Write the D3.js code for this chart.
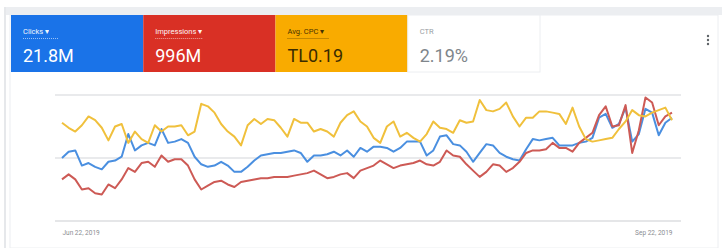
<!DOCTYPE html>
<html>
<head>
<meta charset="utf-8">
<script src="https://cdn.jsdelivr.net/npm/d3@7"></script>
<style>
  body { margin: 0; background: #fff; font-family: Roboto, "Noto Sans", sans-serif; }
  svg { display: block; }
</style>
</head>
<body>
<div id="container"></div>
<script>
let w = 722;
let h = 248;

// summary tiles
let tileNames = ["Clicks", "Impressions", "Avg. CPC", "CTR"];
let tileValues = ["21.8M", "996M", "TL0.19", "2.19%"];
let tileColors = ["#1a73e8", "#d93025", "#f9ab00", "#ffffff"];
let tileText = ["#ffffff", "#ffffff", "#3b2c00", "#80868b"];

// daily dates, Jun 22 2019 .. Sep 22 2019
let startDate = new Date(2019, 5, 22);
let endDate = new Date(2019, 8, 22);
let tickLabels = ["Jun 22, 2019", "Sep 22, 2019"];

// relative index (0-100), one value per day
let clicks = [50,55,56,44,46,43,41,47,48,51,69,56,60,62,60,73,62,63,65,62,
  51,45,43,44,47,44,39,39,43,48,52,53,54,54,55,56,54,47,52,52,
  53,55,52,56,51,58,55,59,59,58,55,58,63,63,63,52,56,67,68,61,
  60,55,47,54,61,60,54,51,49,48,57,65,64,65,66,60,60,60,62,63,
  66,82,85,74,77,90,63,69,89,86,68,78,82];
let impressions = [33,37,33,25,26,22,21,29,26,33,42,39,46,47,43,52,47,49,49,44,
  33,25,28,31,32,29,27,31,32,33,34,34,35,35,35,36,37,38,40,37,
  34,35,37,38,34,40,42,44,48,45,42,44,45,46,48,45,44,47,56,52,
  51,45,40,35,39,45,44,39,42,47,54,56,56,57,62,58,58,55,62,66,
  70,84,91,75,76,92,54,72,98,94,76,83,86];
let avgCpc = [78,74,71,76,83,80,74,64,75,77,62,71,65,62,76,71,75,75,76,68,
  71,93,91,86,77,71,67,60,76,81,77,81,80,74,67,81,78,78,71,73,
  71,67,78,84,87,79,75,66,62,75,79,67,70,66,63,69,79,74,73,70,
  80,78,79,96,88,87,89,94,83,75,82,82,87,87,86,85,77,90,75,65,
  63,64,65,66,73,79,88,84,83,86,88,90,80];

let seriesList = [
  { name: "Clicks", values: clicks, color: "#4a8fe0" },
  { name: "Impressions", values: impressions, color: "#cd5a55" },
  { name: "Avg. CPC", values: avgCpc, color: "#f0c03c" }
];

let viz = d3.select("#container")
  .append("svg")
    .attr("width", w)
    .attr("height", h);

// page frame: grey band at the top and thin left edge
viz.append("rect").attr("x", 4).attr("y", 7).attr("width", w - 4).attr("height", 8).attr("fill", "#eceef1");
viz.append("rect").attr("x", 4).attr("y", 7).attr("width", 2).attr("height", h - 7).attr("fill", "#e6e8eb");
viz.append("rect").attr("x", 10).attr("y", 15).attr("width", 708).attr("height", h - 15)
  .attr("fill", "#fff").attr("stroke", "#eceef1");

// tiles
let tileX = d3.scaleBand().domain(tileNames).range([11, 540]);

let tiles = viz.selectAll(".tile").data(tileNames).enter()
  .append("g")
  .attr("class", "tile")
  .attr("transform", d => "translate(" + tileX(d) + ",15)");

tiles.append("rect")
  .attr("width", tileX.bandwidth())
  .attr("height", 57)
  .attr("fill", (d, i) => tileColors[i])
  .attr("stroke", (d, i) => i == 3 ? "#eceef1" : "none");

tiles.append("text")
  .attr("x", 12)
  .attr("y", 19)
  .attr("font-size", 7.5)
  .attr("fill", (d, i) => tileText[i])
  .attr("opacity", (d, i) => i == 3 ? 0.8 : 0.95)
  .text((d, i) => i < 3 ? d + " \u25BE" : d.toUpperCase());

// dotted underline under the metric names
tiles.filter((d, i) => i < 3).append("line")
  .attr("x1", 12)
  .attr("x2", (d, i) => 12 + [36, 48, 42][i])
  .attr("y1", 23.5).attr("y2", 23.5)
  .attr("stroke", (d, i) => tileText[i])
  .attr("stroke-width", 0.8)
  .attr("stroke-dasharray", "1,1")
  .attr("opacity", 0.7);

tiles.append("text")
  .attr("x", 12)
  .attr("y", 47)
  .attr("font-size", 18)
  .attr("fill", (d, i) => tileText[i])
  .text((d, i) => tileValues[i]);

// kebab menu
viz.selectAll(".dot").data([0, 1, 2]).enter()
  .append("circle")
  .attr("cx", 708)
  .attr("cy", d => 36 + d * 4)
  .attr("r", 1.2)
  .attr("fill", "#5f6368");

// scales
let xScale = d3.scaleTime().domain([startDate, endDate]).range([62, 672]);
let yScale = d3.scaleLinear().domain([0, 100]).range([221, 95]);

let dates = d3.timeDay.range(startDate, d3.timeDay.offset(endDate, 1));

// gridlines
viz.selectAll(".grid").data([50, 100]).enter()
  .append("line")
  .attr("x1", 55).attr("x2", 681)
  .attr("y1", d => yScale(d)).attr("y2", d => yScale(d))
  .attr("stroke", "#e9eaec")
  .attr("stroke-width", 2);

// x axis
let xAxis = d3.axisBottom(xScale)
  .tickValues([startDate, endDate])
  .tickFormat((d, i) => tickLabels[i])
  .tickSize(0)
  .tickPadding(9);
let xAxisGroup = viz.append("g").attr("class", "xaxis")
  .attr("transform", "translate(0," + yScale(0) + ")");
xAxisGroup.call(xAxis);
xAxisGroup.select(".domain").remove();
xAxisGroup.append("line")
  .attr("x1", 55).attr("x2", 681)
  .attr("stroke", "#dcdee1").attr("stroke-width", 1.5);
xAxisGroup.selectAll("text")
  .attr("font-family", "Roboto, sans-serif")
  .attr("font-size", 6.5)
  .attr("fill", "#8a8d91")
  .attr("text-anchor", (d, i) => i == 0 ? "start" : "end");

// lines
let line = d3.line()
  .x((d, i) => xScale(dates[i]))
  .y(d => yScale(d))
  .curve(d3.curveLinear);

viz.selectAll(".series").data(seriesList).enter()
  .append("path")
  .attr("class", "series")
  .attr("d", d => line(d.values))
  .attr("fill", "none")
  .attr("stroke", d => d.color)
  .attr("stroke-width", 2)
  .attr("stroke-linejoin", "round");
</script>
</body>
</html>
